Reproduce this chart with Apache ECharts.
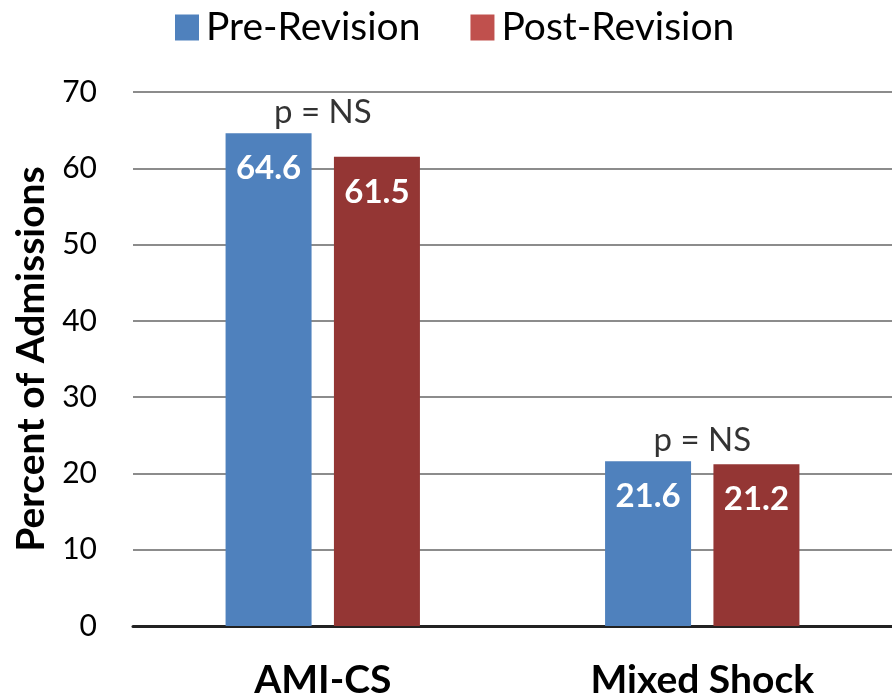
<!DOCTYPE html>
<html>
<head>
<meta charset="utf-8">
<script src="https://cdn.jsdelivr.net/npm/echarts@6/dist/echarts.min.js"></script>
<style>
html,body{margin:0;padding:0;background:#fff;}
#chart{width:892px;height:700px;}
</style>
</head>
<body>
<div id="chart"></div>
<script>
var categories = ['AMI-CS', 'Mixed Shock'];
var preRevision = [64.6, 21.6];
var postRevision = [61.5, 21.2];
var pLabels = ['p = NS', 'p = NS'];
var yTicks = [0, 10, 20, 30, 40, 50, 60, 70];

var FONT = 'Lato';
var chart = echarts.init(document.getElementById('chart'), null, {renderer: 'canvas'});

var pairMax = categories.map(function (c, i) { return Math.max(preRevision[i], postRevision[i]); });

chart.setOption({
  animation: false,
  backgroundColor: '#ffffff',
  textStyle: {fontFamily: FONT},
  legend: {
    left: 170,
    top: 3,
    itemWidth: 24,
    itemHeight: 26,
    itemGap: 50,
    icon: 'rect',
    textStyle: {fontFamily: FONT, fontSize: 39, color: '#000', padding: [0, 0, 0, 2]},
    data: [
      {name: 'Pre-Revision', itemStyle: {color: '#4F81BD'}},
      {name: 'Post-Revision', itemStyle: {color: '#C0504D'}}
    ]
  },
  grid: {left: 133, right: -4, top: 92, bottom: 72, containLabel: false},
  xAxis: {
    type: 'category',
    data: categories,
    axisTick: {show: false},
    axisLine: {lineStyle: {color: '#222', width: 3}},
    axisLabel: {fontFamily: FONT, fontSize: 39, fontWeight: 'bold', color: '#000', margin: 35}
  },
  yAxis: {
    type: 'value',
    min: yTicks[0],
    max: yTicks[yTicks.length - 1],
    interval: 10,
    name: 'Percent of Admissions',
    nameLocation: 'middle',
    nameGap: 82,
    nameTextStyle: {fontFamily: FONT, fontSize: 39, fontWeight: 'bold', color: '#000'},
    axisLine: {show: false},
    axisTick: {show: false},
    axisLabel: {fontFamily: FONT, fontSize: 30, color: '#000', margin: 36},
    splitLine: {lineStyle: {color: '#8c8c8c', width: 2}}
  },
  series: [
    {
      name: 'Pre-Revision',
      type: 'bar',
      data: preRevision,
      barWidth: 86,
      barGap: '26%',
      itemStyle: {color: '#4F81BD'},
      label: {show: true, position: 'insideTop', distance: 19, color: '#fff', fontFamily: FONT, fontWeight: 'bold', fontSize: 33}
    },
    {
      name: 'Post-Revision',
      type: 'bar',
      data: postRevision,
      barWidth: 86,
      barGap: '26%',
      itemStyle: {color: '#943634'},
      label: {show: true, position: 'insideTop', distance: 19, color: '#fff', fontFamily: FONT, fontWeight: 'bold', fontSize: 33}
    },
    {
      name: 'pvalue',
      type: 'scatter',
      data: pairMax,
      symbolSize: 0,
      silent: true,
      label: {
        show: true,
        position: 'top',
        distance: 4,
        color: '#000',
        fontFamily: FONT,
        fontSize: 33,
        formatter: function (p) { return pLabels[p.dataIndex]; }
      }
    }
  ]
});
</script>
</body>
</html>
